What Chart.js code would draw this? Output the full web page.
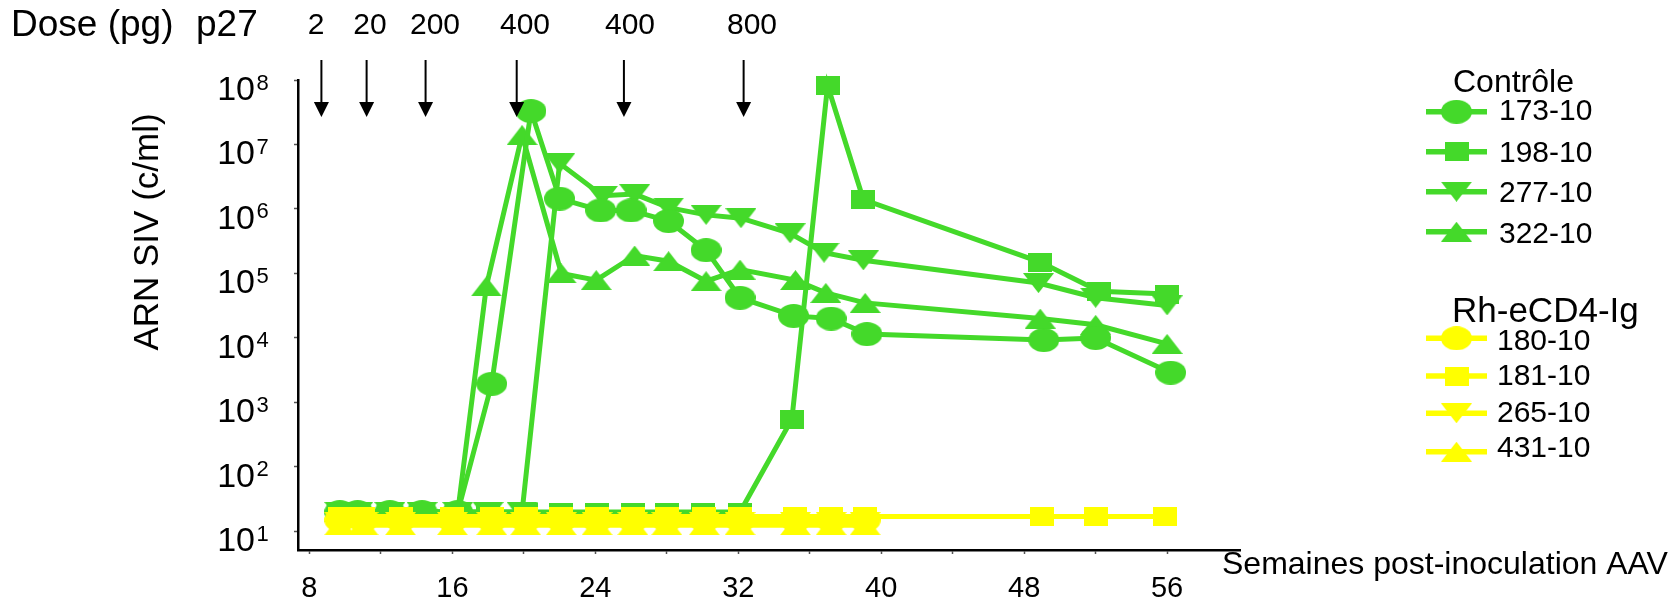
<!DOCTYPE html>
<html>
<head>
<meta charset="utf-8">
<script src="https://cdn.jsdelivr.net/npm/chart.js@4.4.1/dist/chart.umd.min.js"></script>
<style>
  html, body { margin: 0; padding: 0; background: #fff; }
  #wrap { width: 1680px; height: 601px; }
</style>
</head>
<body>
<div id="wrap"><canvas id="chart" width="1680" height="601"></canvas></div>
<script>
// weeks post AAV inoculation / viral load (copies per ml)
const weeks173 = [9.7, 10.7, 12.5, 14.3, 16.3, 18.2, 20.4, 22, 24.3, 26, 28.1, 30.2, 32.1, 35.1, 37.2, 39.2, 49.1, 52, 56.2];
const load173 = [20, 20, 20, 20, 20, 1950, 3.3e7, 1.45e6, 9.5e5, 9.5e5, 6.5e5, 2.3e5, 4.2e4, 2.2e4, 2.0e4, 1.15e4, 9.3e3, 1.0e4, 2.9e3];

const weeks198 = [9.7, 10.7, 12.5, 14.3, 16.3, 18, 20.1, 22.1, 24.1, 26.1, 28, 30, 32.1, 35, 37, 39, 48.9, 52.2, 56];
const load198 = [20, 20, 20, 20, 20, 20, 20, 20, 20, 20, 20, 20, 20, 550, 8.2e7, 1.4e6, 1.5e5, 5.3e4, 4.8e4];

const weeks277 = [9.7, 10.7, 12.5, 14.3, 16.3, 18, 19.9, 22, 24.4, 26.2, 28.1, 30.2, 32.15, 34.9, 36.8, 39, 48.8, 52, 56];
const load277 = [20, 20, 20, 20, 20, 20, 20, 5.1e6, 1.6e6, 1.7e6, 1.05e6, 8.1e5, 7.2e5, 4.2e5, 2.1e5, 1.6e5, 7.1e4, 4.2e4, 3.2e4];

const weeks322 = [9.7, 10.7, 12.5, 14.3, 16.3, 17.9, 19.9, 22.1, 24.05, 26.2, 28.1, 30.2, 32.1, 35.2, 36.9, 39.1, 48.9, 52, 56];
const load322 = [20, 20, 20, 20, 20, 6.3e4, 1.4e7, 1.0e5, 7.9e4, 1.9e5, 1.55e5, 7.6e4, 1.15e5, 7.9e4, 5.0e4, 3.5e4, 2.0e4, 1.6e4, 8.1e3];

const weeksRh = [9.7, 11, 13.1, 16, 18.2, 20.1, 22.1, 24.1, 26.1, 28, 30.1, 32.1, 35.2, 37.2, 39.1];
const weeks181 = [9.7, 11, 13.1, 16, 18.2, 20.1, 22.1, 24.1, 26.1, 28, 30.1, 32.1, 35.2, 37.2, 39.1, 49, 52, 55.9];
const load180 = [15, 15, 15, 15, 15, 15, 15, 15, 15, 15, 15, 15, 15, 15, 15];
const load181 = [17, 17, 17, 17, 17, 17, 17, 17, 17, 17, 17, 17, 17, 17, 17, 17, 17, 17];
const load265 = [14, 14, 14, 14, 14, 14, 14, 14, 14, 14, 14, 14, 14, 14, 14];
const load431 = [12.5, 12.5, 12.5, 12.5, 12.5, 12.5, 12.5, 12.5, 12.5, 12.5, 12.5, 12.5, 12.5, 12.5, 12.5];

const xTicks = [8, 12, 16, 20, 24, 28, 32, 36, 40, 44, 48, 52, 56];
const yTicks = [1e1, 1e2, 1e3, 1e4, 1e5, 1e6, 1e7, 1e8];

// challenge doses (pg p27) and the weeks they were given
const doseWeeks = [8.67, 11.2, 14.5, 19.6, 25.6, 32.3];
const doseLabels = ['2', '20', '200', '400', '400', '800'];

const green = '#44d92a';
const yellow = '#ffff00';
const FONT = '"Liberation Sans", Arial, sans-serif';

function makeMarker(shape, color) {
    const size = { ellipse: [31, 24], rect: [24, 19], triDown: [31, 20], triUp: [31, 20] }[shape];
    const c = document.createElement('canvas');
    c.width = size[0];
    c.height = size[1];
    const g = c.getContext('2d');
    const w = size[0], h = size[1];
    g.fillStyle = color;
    g.beginPath();
    if (shape === 'ellipse') {
        g.ellipse(w / 2, h / 2, w / 2, h / 2, 0, 0, Math.PI * 2);
    } else if (shape === 'rect') {
        g.rect(0, 0, w, h);
    } else if (shape === 'triDown') {
        g.moveTo(0, 0); g.lineTo(w, 0); g.lineTo(w / 2, h);
    } else {
        g.moveTo(w / 2, 0); g.lineTo(w, h); g.lineTo(0, h);
    }
    g.closePath();
    g.fill();
    return c;
}

// order: lower number is drawn on top
const series = [
    { label: '173-10', weeks: weeks173, load: load173, color: green, shape: 'ellipse', order: 3 },
    { label: '198-10', weeks: weeks198, load: load198, color: green, shape: 'rect', order: 2 },
    { label: '277-10', weeks: weeks277, load: load277, color: green, shape: 'triDown', order: 3 },
    { label: '322-10', weeks: weeks322, load: load322, color: green, shape: 'triUp', order: 3 },
    { label: '180-10', weeks: weeksRh, load: load180, color: yellow, shape: 'ellipse', order: 1 },
    { label: '181-10', weeks: weeks181, load: load181, color: yellow, shape: 'rect', order: 0 },
    { label: '265-10', weeks: weeksRh, load: load265, color: yellow, shape: 'triDown', order: 1 },
    { label: '431-10', weeks: weeksRh, load: load431, color: yellow, shape: 'triUp', order: 1 }
];
series.forEach(s => { s.marker = makeMarker(s.shape, s.color); });

// legend layout
const legendLineY = [111.7, 151.7, 191.7, 231.7, 338.3, 376, 413.3, 451.7];
const legendTextY = [120, 161.7, 201.7, 242.7, 350, 385, 421.7, 457.3];
const doseTextX = [316, 370, 435, 525, 630, 752];

const annotations = {
    id: 'annotations',
    afterDraw(chart) {
        const ctx = chart.ctx;
        const xs = chart.scales.x;
        const ys = chart.scales.y;
        ctx.save();
        ctx.fillStyle = '#000';
        ctx.strokeStyle = '#000';
        ctx.textBaseline = 'alphabetic';

        // header
        ctx.font = '37px ' + FONT;
        ctx.textAlign = 'left';
        ctx.fillText('Dose (pg)', 11, 36);
        ctx.fillText('p27', 196, 36);
        ctx.font = '30px ' + FONT;
        ctx.textAlign = 'center';
        doseLabels.forEach((t, i) => ctx.fillText(t, doseTextX[i], 34));

        // arrows
        ctx.lineWidth = 2;
        doseWeeks.forEach(w => {
            const px = xs.getPixelForValue(w);
            ctx.beginPath();
            ctx.moveTo(px, 60);
            ctx.lineTo(px, 104);
            ctx.stroke();
            ctx.beginPath();
            ctx.moveTo(px - 7.5, 102);
            ctx.lineTo(px + 7.5, 102);
            ctx.lineTo(px, 117);
            ctx.closePath();
            ctx.fill();
        });

        // y tick labels as powers of ten
        yTicks.forEach(v => {
            const py = ys.getPixelForValue(v);
            ctx.font = '34px ' + FONT;
            ctx.textAlign = 'right';
            ctx.fillText('10', 255, py + 20);
            ctx.font = '22px ' + FONT;
            ctx.textAlign = 'left';
            ctx.fillText(String(Math.round(Math.log10(v))), 256.5, py + 9.5);
        });

        // axis titles
        ctx.save();
        ctx.translate(148, 232);
        ctx.rotate(-Math.PI / 2);
        ctx.font = '35px ' + FONT;
        ctx.textAlign = 'center';
        ctx.textBaseline = 'middle';
        ctx.fillText('ARN SIV (c/ml)', 0, 0);
        ctx.restore();

        ctx.font = '32px ' + FONT;
        ctx.textAlign = 'left';
        ctx.fillText('Semaines post-inoculation AAV', 1222, 574);

        // legend
        ctx.font = '32px ' + FONT;
        ctx.fillText('Contrôle', 1453, 92);
        ctx.font = '35px ' + FONT;
        ctx.fillText('Rh-eCD4-Ig', 1452, 322);
        ctx.font = '30px ' + FONT;
        series.forEach((s, i) => {
            const ly = legendLineY[i];
            ctx.strokeStyle = s.color;
            ctx.lineWidth = 5.5;
            ctx.beginPath();
            ctx.moveTo(1426, ly);
            ctx.lineTo(1487, ly);
            ctx.stroke();
            ctx.drawImage(s.marker, 1456.5 - s.marker.width / 2, ly - s.marker.height / 2);
            ctx.fillStyle = '#000';
            ctx.fillText(s.label, i < 4 ? 1499 : 1497, legendTextY[i]);
        });
        ctx.restore();
    }
};

new Chart(document.getElementById('chart').getContext('2d'), {
    type: 'line',
    data: {
        datasets: series.map(s => ({
            label: s.label,
            data: s.weeks.map((w, i) => ({ x: w, y: s.load[i] })),
            borderColor: s.color,
            backgroundColor: s.color,
            borderWidth: 5,
            pointStyle: s.marker,
            pointRadius: 12,
            tension: 0,
            fill: false,
            clip: false,
            order: s.order
        }))
    },
    options: {
        responsive: false,
        animation: false,
        layout: { padding: { left: 0, right: 440, top: 80, bottom: 0 } },
        plugins: { legend: { display: false }, tooltip: { enabled: false } },
        scales: {
            x: {
                type: 'linear',
                min: 7.36,
                max: 60.08,
                afterBuildTicks: scale => { scale.ticks = xTicks.map(v => ({ value: v })); },
                afterFit: scale => { scale.height = 51; },
                border: { display: true, color: '#000', width: 2.5 },
                grid: { drawOnChartArea: false, drawTicks: true, tickLength: 4, tickColor: '#555', tickWidth: 1.5 },
                ticks: {
                    padding: 20,
                    color: '#000',
                    maxRotation: 0,
                    autoSkip: false,
                    font: { family: FONT, size: 29, lineHeight: 1 },
                    callback: v => (v % 8 === 0 ? String(v) : '')
                }
            },
            y: {
                type: 'logarithmic',
                min: 5.16,
                max: 1e8,
                bounds: 'data',
                afterBuildTicks: scale => { scale.ticks = yTicks.map(v => ({ value: v })); },
                afterFit: scale => { scale.width = 298; },
                border: { display: true, color: '#000', width: 2.5 },
                grid: { drawOnChartArea: false, drawTicks: true, tickLength: 4, tickColor: '#555', tickWidth: 1.5 },
                ticks: { display: false }
            }
        }
    },
    plugins: [annotations]
});
</script>
</body>
</html>
